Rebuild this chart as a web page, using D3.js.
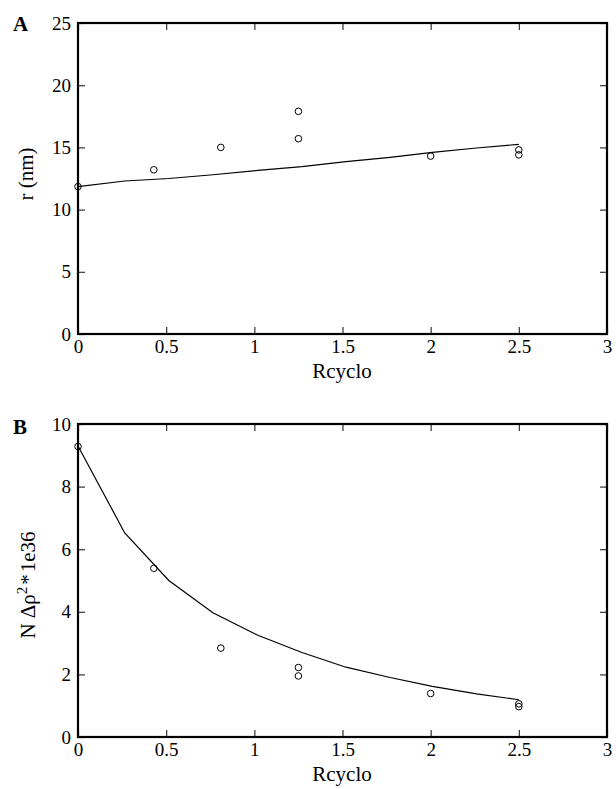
<!DOCTYPE html>
<html><head><meta charset="utf-8">
<script src="https://cdn.jsdelivr.net/npm/d3@7"></script>
<style>body{margin:0;background:#fff}svg{display:block}svg text{font-family:"Liberation Serif","Times New Roman",Times,Tinos,"Nimbus Roman","Nimbus Roman No9 L","Noto Serif","DejaVu Serif",FreeSerif,serif;fill:#000}</style>
</head><body>
<script>
// Shared x axis
const xTicks = [0, 0.5, 1, 1.5, 2, 2.5, 3];
const xTickLabels = ["0", "0.5", "1", "1.5", "2", "2.5", "3"];
const aYTicks = [0, 5, 10, 15, 20, 25];
const bYTicks = [0, 2, 4, 6, 8, 10];

// Panel A: radius r (nm)
const aPointsX = [0, 0.43, 0.81, 1.25, 1.25, 2.0, 2.5, 2.5];
const aPointsY = [11.85, 13.2, 15.0, 17.9, 15.7, 14.3, 14.8, 14.4];
const aLineX = [0, 0.265, 0.515, 0.765, 1.02, 1.27, 1.52, 1.77, 2.01, 2.26, 2.5];
const aLineY = [11.85, 12.3, 12.5, 12.8, 13.15, 13.45, 13.85, 14.2, 14.6, 14.95, 15.25];

// Panel B: N Δρ²*1e36
const bPointsX = [0, 0.43, 0.81, 1.25, 1.25, 2.0, 2.5, 2.5];
const bPointsY = [9.28, 5.39, 2.84, 2.22, 1.95, 1.39, 1.06, 0.97];
const bLineX = [0, 0.265, 0.515, 0.765, 1.02, 1.27, 1.52, 1.77, 2.01, 2.26, 2.5];
const bLineY = [9.3, 6.52, 5.0, 3.97, 3.25, 2.7, 2.23, 1.9, 1.62, 1.38, 1.19];

const W = 616, H = 789;
const svg = d3.select("body").append("svg").attr("width", W).attr("height", H);

function panel(cfg) {
  const x = d3.scaleLinear().domain([0, 3]).range([78, 607]);
  const y = d3.scaleLinear().domain(cfg.yDomain).range([cfg.bottom, cfg.top]);
  const g = svg.append("g");
  const tickLen = 7;
  const fmtX = (d) => xTickLabels[xTicks.indexOf(d)];

  const bx = g.append("g").attr("transform", `translate(0,${cfg.bottom})`)
    .call(d3.axisBottom(x).tickValues(xTicks).tickFormat(fmtX).tickSizeInner(-tickLen).tickSizeOuter(0).tickPadding(10));
  const tx = g.append("g").attr("transform", `translate(0,${cfg.top})`)
    .call(d3.axisTop(x).tickValues(xTicks).tickFormat("").tickSizeInner(-tickLen).tickSizeOuter(0));
  const ly = g.append("g").attr("transform", `translate(78,0)`)
    .call(d3.axisLeft(y).tickValues(cfg.yTicks).tickFormat(d3.format("d")).tickSizeInner(-tickLen).tickSizeOuter(0).tickPadding(7));
  const ry = g.append("g").attr("transform", `translate(607,0)`)
    .call(d3.axisRight(y).tickValues(cfg.yTicks).tickFormat("").tickSizeInner(-tickLen).tickSizeOuter(0));

  [bx, tx, ly, ry].forEach(a => {
    a.attr("font-family", null);
    a.select(".domain").remove();
    a.selectAll(".tick line").attr("stroke", "#333").attr("stroke-width", 1.2);
    a.selectAll("text").attr("font-size", 19).attr("fill", "#000");
  });
  bx.selectAll("text").attr("y", 19).attr("dy", 0);

  g.append("rect").attr("x", 78).attr("y", cfg.top).attr("width", 607 - 78).attr("height", cfg.bottom - cfg.top)
    .attr("fill", "none").attr("stroke", "#000").attr("stroke-width", 2.2);

  const lineData = cfg.lineX.map((v, i) => [v, cfg.lineY[i]]);
  g.append("path").datum(lineData)
    .attr("d", d3.line().x(d => x(d[0])).y(d => y(d[1])))
    .attr("fill", "none").attr("stroke", "#000").attr("stroke-width", 1.2);

  const pts = cfg.px.map((v, i) => [v, cfg.py[i]]);
  g.selectAll("circle.pt").data(pts).enter().append("circle")
    .attr("cx", d => x(d[0])).attr("cy", d => y(d[1])).attr("r", 3.3)
    .attr("fill", "none").attr("stroke", "#000").attr("stroke-width", 1);

  g.append("text").attr("x", 342).attr("y", cfg.bottom + 44).attr("text-anchor", "middle")
    .attr("font-size", 21).text("Rcyclo");
  g.append("text").attr("x", 13).attr("y", cfg.top + cfg.letterDy).attr("font-size", 21).attr("font-weight", "bold").text(cfg.letter);
  return {x, y, g};
}

const A = panel({top: 23, bottom: 334, yDomain: [0, 25], yTicks: aYTicks, lineX: aLineX, lineY: aLineY, px: aPointsX, py: aPointsY, letter: "A", letterDy: 8});
A.g.append("text").attr("transform", "translate(33,174) rotate(-90)").attr("text-anchor", "middle")
  .attr("font-size", 21).text("r (nm)");

const B = panel({top: 424, bottom: 737, yDomain: [0, 10], yTicks: bYTicks, lineX: bLineX, lineY: bLineY, px: bPointsX, py: bPointsY, letter: "B", letterDy: 10});
const yl = B.g.append("text").attr("transform", "translate(35,585) rotate(-90)").attr("text-anchor", "middle").attr("font-size", 21);
yl.append("tspan").text("N  Δρ");
yl.append("tspan").attr("dy", -8).attr("font-size", 15).text("2");
yl.append("tspan").attr("dy", 8).attr("dx", 2).text("*");
yl.append("tspan").attr("dx", 2).text("1e36");
</script>
</body></html>
